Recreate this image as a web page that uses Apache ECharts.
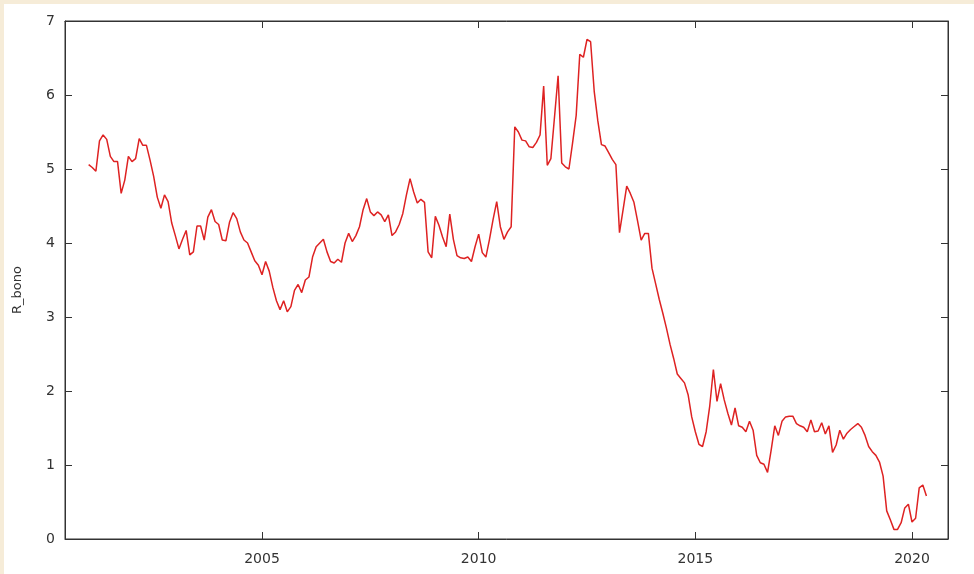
<!DOCTYPE html>
<html>
<head>
<meta charset="utf-8">
<title>R_bono</title>
<script src="https://cdn.jsdelivr.net/npm/echarts@6/dist/echarts.min.js"></script>
<style>
  html, body { margin: 0; padding: 0; background: #f6ecd8; }
  #chart { position: absolute; left: 4px; top: 4px; width: 970px; height: 570px; background: #ffffff; }
</style>
</head>
<body>
<div id="chart"></div>
<script>
// Monthly series R_bono, January 2001 to May 2020
const startYear = 2001;
const seriesName = 'R_bono';
const rBono = [
  // 2001
  5.06, 5.02, 4.97, 5.38, 5.46, 5.40, 5.17, 5.10, 5.10, 4.67, 4.85, 5.17,
  // 2002
  5.10, 5.14, 5.41, 5.32, 5.32, 5.12, 4.90, 4.62, 4.47, 4.65, 4.56, 4.27,
  // 2003
  4.10, 3.92, 4.05, 4.17, 3.84, 3.88, 4.23, 4.23, 4.04, 4.35, 4.45, 4.29,
  // 2004
  4.25, 4.04, 4.03, 4.28, 4.41, 4.33, 4.15, 4.04, 4.00, 3.88, 3.76, 3.70,
  // 2005
  3.57, 3.75, 3.62, 3.40, 3.22, 3.10, 3.22, 3.07, 3.14, 3.36, 3.44, 3.33,
  // 2006
  3.50, 3.54, 3.81, 3.95, 4.00, 4.05, 3.88, 3.75, 3.73, 3.78, 3.74, 4.00,
  // 2007
  4.13, 4.02, 4.10, 4.22, 4.45, 4.60, 4.42, 4.37, 4.42, 4.38, 4.29, 4.38,
  // 2008
  4.10, 4.15, 4.25, 4.40, 4.65, 4.87, 4.69, 4.54, 4.59, 4.55, 3.88, 3.80,
  // 2009
  4.36, 4.24, 4.08, 3.95, 4.39, 4.05, 3.83, 3.80, 3.79, 3.81, 3.75, 3.95,
  // 2010
  4.12, 3.87, 3.81, 4.05, 4.32, 4.56, 4.22, 4.05, 4.15, 4.22, 5.57, 5.50,
  // 2011
  5.39, 5.38, 5.30, 5.29, 5.36, 5.46, 6.12, 5.05, 5.14, 5.70, 6.26, 5.08,
  // 2012
  5.03, 5.00, 5.35, 5.72, 6.55, 6.51, 6.75, 6.72, 6.05, 5.65, 5.33, 5.31,
  // 2013
  5.22, 5.13, 5.06, 4.14, 4.45, 4.77, 4.67, 4.55, 4.30, 4.04, 4.13, 4.13,
  // 2014
  3.66, 3.45, 3.24, 3.05, 2.85, 2.63, 2.44, 2.23, 2.17, 2.11, 1.95, 1.65,
  // 2015
  1.45, 1.28, 1.25, 1.45, 1.80, 2.29, 1.86, 2.10, 1.88, 1.70, 1.54, 1.77,
  // 2016
  1.53, 1.51, 1.45, 1.59, 1.47, 1.13, 1.03, 1.01, 0.90, 1.20, 1.53, 1.40,
  // 2017
  1.59, 1.65, 1.66, 1.66, 1.56, 1.53, 1.51, 1.45, 1.61, 1.45, 1.46, 1.57,
  // 2018
  1.42, 1.53, 1.17, 1.27, 1.47, 1.35, 1.43, 1.48, 1.52, 1.56, 1.51, 1.40,
  // 2019
  1.25, 1.18, 1.13, 1.04, 0.85, 0.38, 0.26, 0.13, 0.13, 0.22, 0.42, 0.47,
  // 2020
  0.23, 0.28, 0.69, 0.73, 0.58
];

const xTickYears = [2005, 2010, 2015, 2020];
const yTickValues = [0, 1, 2, 3, 4, 5, 6, 7];

const xMin = 2000.454;
const xMax = 2020.831;

const points = rBono.map((v, i) => [startYear + i / 12, v]);

const frameColor = '#333333';
const textColor = '#333333';
const labelStyle = { color: textColor, fontFamily: 'DejaVu Sans', fontSize: 14 };

const chart = echarts.init(document.getElementById('chart'), null, { renderer: 'canvas' });

chart.setOption({
  animation: false,
  backgroundColor: '#ffffff',
  grid: {
    left: 61, right: 26, top: 17, bottom: 35,
    show: true, borderColor: frameColor, borderWidth: 1, backgroundColor: 'transparent'
  },
  // vertical axis title, set a little below the middle of the frame
  graphic: [
    {
      type: 'text',
      left: 7,
      top: 262,
      rotation: Math.PI / 2,
      style: {
        text: seriesName,
        fill: textColor,
        font: '13px "DejaVu Sans"'
      }
    }
  ],
  xAxis: [
    {
      type: 'value', position: 'bottom', min: xMin, max: xMax,
      axisLine: { show: true, onZero: false, lineStyle: { color: frameColor, width: 1 } },
      axisTick: { show: true, inside: true, length: 7, customValues: xTickYears, lineStyle: { color: frameColor } },
      axisLabel: { show: true, customValues: xTickYears, margin: 13, formatter: v => String(Math.round(v)), ...labelStyle },
      splitLine: { show: false }
    },
    {
      type: 'value', position: 'top', min: xMin, max: xMax,
      axisLine: { show: true, onZero: false, lineStyle: { color: frameColor, width: 1 } },
      axisTick: { show: true, inside: true, length: 7, customValues: xTickYears, lineStyle: { color: frameColor } },
      axisLabel: { show: false },
      splitLine: { show: false }
    }
  ],
  yAxis: [
    {
      type: 'value', position: 'left', min: 0, max: 7, interval: 1,
      axisLine: { show: true, onZero: false, lineStyle: { color: frameColor, width: 1 } },
      axisTick: { show: true, inside: true, length: 7, lineStyle: { color: frameColor } },
      axisLabel: { show: true, margin: 10, formatter: v => yTickValues.includes(v) ? String(v) : '', ...labelStyle },
      splitLine: { show: false }
    },
    {
      type: 'value', position: 'right', min: 0, max: 7, interval: 1,
      axisLine: { show: true, onZero: false, lineStyle: { color: frameColor, width: 1 } },
      axisTick: { show: true, inside: true, length: 7, lineStyle: { color: frameColor } },
      axisLabel: { show: false },
      splitLine: { show: false }
    }
  ],
  series: [
    {
      name: seriesName,
      type: 'line',
      xAxisIndex: 0,
      yAxisIndex: 0,
      data: points,
      showSymbol: false,
      symbol: 'none',
      lineStyle: { color: '#de2222', width: 1.5 },
      itemStyle: { color: '#de2222' }
    }
  ]
});
</script>
</body>
</html>
